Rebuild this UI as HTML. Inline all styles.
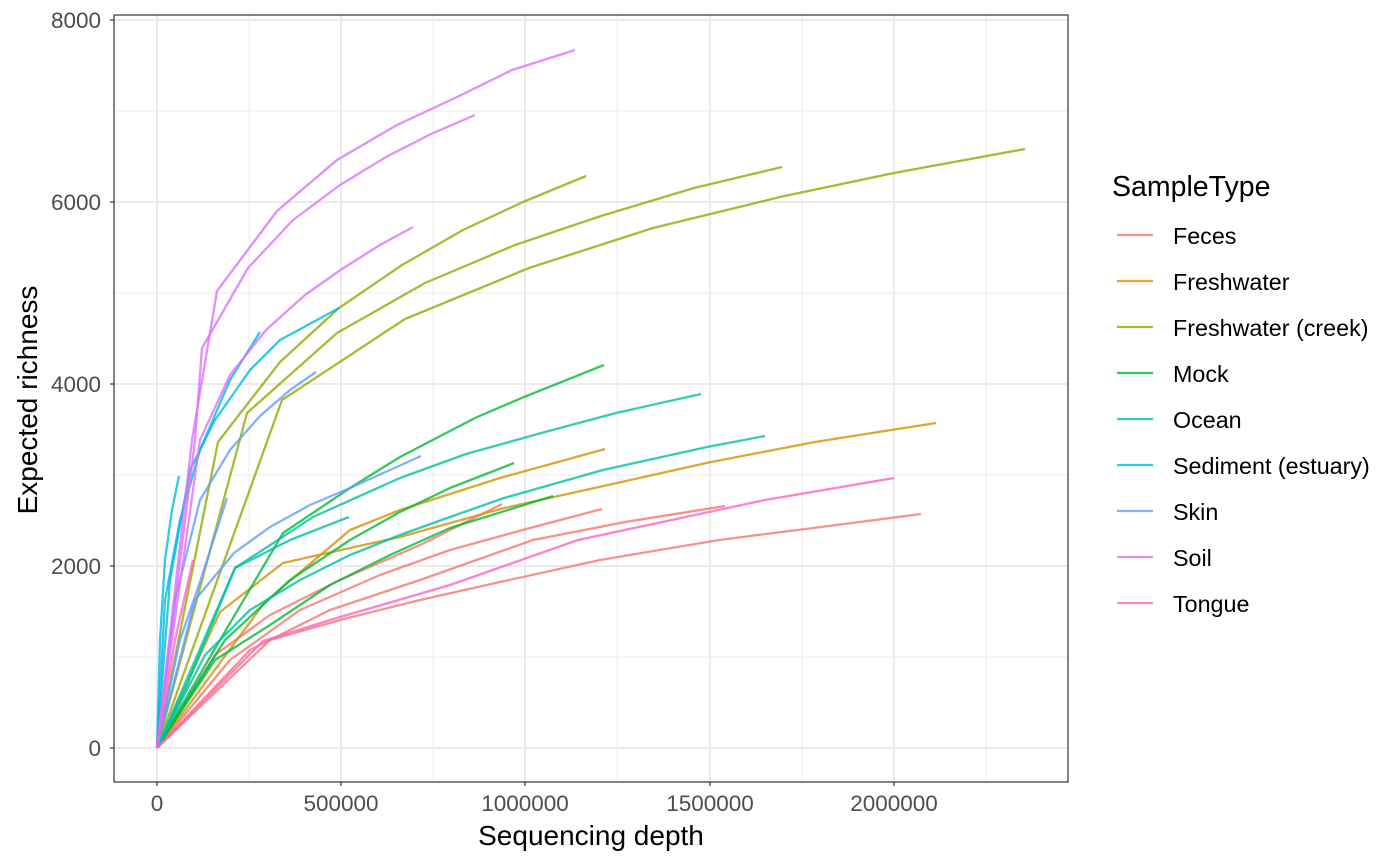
<!DOCTYPE html>
<html><head><meta charset="utf-8"><style>body{margin:0;background:#fff}svg{display:block}</style></head><body>
<svg width="1400" height="866" viewBox="0 0 1400 866" xmlns="http://www.w3.org/2000/svg" font-family="Liberation Sans, sans-serif">
<rect width="1400" height="866" fill="#fff"/>
<g stroke="#ebebeb" stroke-width="1">
<line x1="114" x2="1068" y1="657" y2="657"/><line x1="114" x2="1068" y1="475" y2="475"/><line x1="114" x2="1068" y1="293" y2="293"/><line x1="114" x2="1068" y1="111" y2="111"/>
<line y1="15" y2="782" x1="249" x2="249"/><line y1="15" y2="782" x1="433" x2="433"/><line y1="15" y2="782" x1="617" x2="617"/><line y1="15" y2="782" x1="802" x2="802"/><line y1="15" y2="782" x1="986" x2="986"/>
</g>
<g stroke="#ebebeb" stroke-width="2">
<line x1="114" x2="1068" y1="748" y2="748"/><line x1="114" x2="1068" y1="566" y2="566"/><line x1="114" x2="1068" y1="384" y2="384"/><line x1="114" x2="1068" y1="202" y2="202"/><line x1="114" x2="1068" y1="20" y2="20"/>
<line y1="15" y2="782" x1="157" x2="157"/><line y1="15" y2="782" x1="341" x2="341"/><line y1="15" y2="782" x1="525" x2="525"/><line y1="15" y2="782" x1="710" x2="710"/><line y1="15" y2="782" x1="894" x2="894"/>
</g>
<g fill="none" stroke-width="2.3" stroke-opacity="0.8" stroke-linejoin="round">
<g stroke="#F8766D">
<polyline points="157,748 270,640 340,620 420,600 500,582 600,560 719,540 821,527 921,514"/>
<polyline points="157,748 250,650 330,610 420,580 533,540 625,522 725,506"/>
<polyline points="157,748 230,660 300,610 380,575 450,550 530,528 602,509"/>
<polyline points="157,748 215,655 270,615 340,580 420,545 502,504"/>
</g>
<g stroke="#D39200">
<polyline points="157,748 220,612 283,563 350,548 400,537 504,508 599,487 711,462 815,442 936,423"/>
<polyline points="157,748 265,602 350,530 400,510 500,478 605,449"/>
</g>
<g stroke="#93AA00">
<polyline points="157,748 218,442 280,362 339,308 402,265 463,230 523,202 586,176"/>
<polyline points="157,748 247,413 337,333 425,283 515,245 601,216 694,188 782,167"/>
<polyline points="157,748 282,400 405,319 529,268 653,228 780,197 894,173 1025,149"/>
</g>
<g stroke="#00BA38">
<polyline points="157,748 213,652 283,533 350,488 400,457 475,418 524,397 604,365"/>
<polyline points="157,748 225,640 290,580 350,540 400,512 450,488 514,463"/>
<polyline points="157,748 215,660 270,625 330,585 390,555 450,528 553,496"/>
</g>
<g stroke="#00C19F">
<polyline points="157,748 235,568 313,517 400,478 466,454 545,432 616,413 701,394"/>
<polyline points="157,748 205,655 250,610 300,580 350,555 400,535 450,517 504,498 603,470 707,447 765,436"/>
<polyline points="157,748 185,690 235,568 290,540 349,517"/>
</g>
<g stroke="#00B9E3">
<polyline points="157,748 165,600 180,520 200,450 230,380 260,332"/>
<polyline points="157,748 170,580 190,470 215,420 250,370 280,340 339,308"/>
<polyline points="157,748 160,640 165,560 172,510 179,476"/>
</g>
<g stroke="#619CFF">
<polyline points="157,748 175,600 200,500 230,450 260,416 290,390 316,372"/>
<polyline points="157,748 195,600 234,553 270,527 310,505 350,488 390,470 421,456"/>
<polyline points="157,748 180,640 200,582 227,498"/>
</g>
<g stroke="#DB72FB">
<polyline points="157,748 192,440 217,291 277,211 337,160 397,125 455,98 512,70 575,50"/>
<polyline points="157,748 195,440 202,348 248,268 293,220 340,185 386,157 431,134 475,115"/>
<polyline points="157,748 200,440 230,375 266,330 305,295 342,269 380,245 413,227"/>
</g>
<g stroke="#FF61C3">
<polyline points="157,748 263,641 330,620 450,585 578,540 765,500 894,478"/>
<polyline points="157,748 175,640 193,560"/>
</g>
</g>
<rect x="114" y="15" width="954" height="767" fill="none" stroke="#333" stroke-width="1.2"/>
<g stroke="#333" stroke-width="1.2">
<line x1="110" x2="114" y1="748" y2="748"/><line x1="110" x2="114" y1="566" y2="566"/><line x1="110" x2="114" y1="384" y2="384"/><line x1="110" x2="114" y1="202" y2="202"/><line x1="110" x2="114" y1="20" y2="20"/>
<line y1="782" y2="786" x1="157" x2="157"/><line y1="782" y2="786" x1="341" x2="341"/><line y1="782" y2="786" x1="525" x2="525"/><line y1="782" y2="786" x1="710" x2="710"/><line y1="782" y2="786" x1="894" x2="894"/>
</g>
<g fill="#4d4d4d" font-size="22.5" text-anchor="end">
<text x="101" y="756">0</text><text x="101" y="574">2000</text><text x="101" y="392">4000</text><text x="101" y="210">6000</text><text x="101" y="28">8000</text>
</g>
<g fill="#4d4d4d" font-size="22.5" text-anchor="middle">
<text x="157" y="811">0</text><text x="341" y="811">500000</text><text x="525" y="811">1000000</text><text x="710" y="811">1500000</text><text x="894" y="811">2000000</text>
</g>
<text x="591" y="845" font-size="28" text-anchor="middle" fill="#000">Sequencing depth</text>
<text transform="translate(37,400) rotate(-90)" font-size="28" text-anchor="middle" fill="#000">Expected richness</text>
<text x="1112" y="196" font-size="28.5" fill="#000">SampleType</text>
<g stroke-width="2.3" stroke-opacity="0.8">
<line x1="1117" x2="1153" y1="235" y2="235" stroke="#F8766D"/>
<line x1="1117" x2="1153" y1="281" y2="281" stroke="#D39200"/>
<line x1="1117" x2="1153" y1="327" y2="327" stroke="#93AA00"/>
<line x1="1117" x2="1153" y1="373" y2="373" stroke="#00BA38"/>
<line x1="1117" x2="1153" y1="419" y2="419" stroke="#00C19F"/>
<line x1="1117" x2="1153" y1="465" y2="465" stroke="#00B9E3"/>
<line x1="1117" x2="1153" y1="511" y2="511" stroke="#619CFF"/>
<line x1="1117" x2="1153" y1="557" y2="557" stroke="#DB72FB"/>
<line x1="1117" x2="1153" y1="603" y2="603" stroke="#FF61C3"/>
</g>
<g font-size="23.3" fill="#000">
<text x="1173" y="244">Feces</text><text x="1173" y="290">Freshwater</text><text x="1173" y="336">Freshwater (creek)</text><text x="1173" y="382">Mock</text><text x="1173" y="428">Ocean</text><text x="1173" y="474">Sediment (estuary)</text><text x="1173" y="520">Skin</text><text x="1173" y="566">Soil</text><text x="1173" y="612">Tongue</text>
</g>
</svg>
</body></html>
